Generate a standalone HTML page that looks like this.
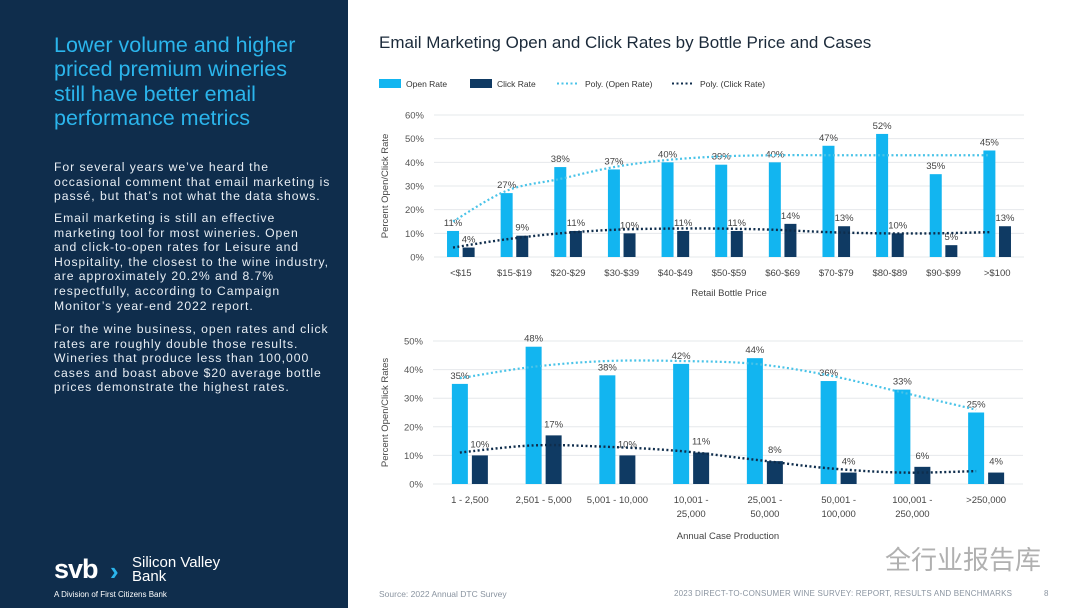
<!DOCTYPE html>
<html><head><meta charset="utf-8">
<style>
body{margin:0;width:1080px;height:608px;position:relative;overflow:hidden;background:#fff;font-family:"Liberation Sans",sans-serif}
#left{position:absolute;left:0;top:0;width:348px;height:608px;background:#0f2d4c}
#title{position:absolute;left:54px;top:33px;color:#2bb5ec;font-size:21.5px;line-height:24.3px;white-space:nowrap}
.p{position:absolute;left:54px;color:#e8eef4;font-size:12.2px;line-height:14.6px;letter-spacing:0.95px;white-space:nowrap}
svg text{font-family:"Liberation Sans",sans-serif}
</style></head><body>
<div id="left">
<div id="title">Lower volume and higher<br>priced premium wineries<br>still have better email<br>performance metrics</div>
<div class="p" style="top:160px">For several years we’ve heard the<br>occasional comment that email marketing is<br>passé, but that’s not what the data shows.</div>
<div class="p" style="top:211px">Email marketing is still an effective<br>marketing tool for most wineries. Open<br>and click-to-open rates for Leisure and<br>Hospitality, the closest to the wine industry,<br>are approximately 20.2% and 8.7%<br>respectfully, according to Campaign<br>Monitor’s year-end 2022 report.</div>
<div class="p" style="top:322px">For the wine business, open rates and click<br>rates are roughly double those results.<br>Wineries that produce less than 100,000<br>cases and boast above $20 average bottle<br>prices demonstrate the highest rates.</div>
<div style="position:absolute;left:54px;top:556px;color:#fff">
<span style="font-size:27px;font-weight:bold;letter-spacing:-1px;position:absolute;top:-2px;left:0">svb</span>
<span style="position:absolute;left:56px;top:0px;color:#2bb5ec;font-size:26px;font-weight:bold">›</span>
<span style="position:absolute;left:78px;top:0px;font-size:15px;line-height:14px;width:120px">Silicon Valley<br>Bank</span>
<span style="position:absolute;left:0;top:34px;font-size:8px;white-space:nowrap">A Division of First Citizens Bank</span>
</div>
</div>
<div style="position:absolute;left:379px;top:33px;font-size:17px;color:#1b2a3a">Email Marketing Open and Click Rates by Bottle Price and Cases</div>
<div style="position:absolute;left:379px;top:589px;font-size:8.5px;color:#8a94a0">Source: 2022 Annual DTC Survey</div>
<div style="position:absolute;left:674px;top:589px;font-size:8px;color:#8a94a0;letter-spacing:0.2px">2023 DIRECT-TO-CONSUMER WINE SURVEY: REPORT, RESULTS AND BENCHMARKS</div>
<div style="position:absolute;left:1044px;top:589px;font-size:8px;color:#8a94a0">8</div>
<div style="position:absolute;left:885px;top:540px;font-size:26px;color:#b0b0b0;font-family:'Liberation Sans','Noto Sans CJK SC',sans-serif">全行业报告库</div>
<svg id="c" width="1080" height="608" style="position:absolute;left:0;top:0"></svg>
<script>
const cats1=["<$15","$15-$19","$20-$29","$30-$39","$40-$49","$50-$59","$60-$69","$70-$79","$80-$89","$90-$99",">$100"];
const open1=[11,27,38,37,40,39,40,47,52,35,45];
const click1=[4,9,11,10,11,11,14,13,10,5,13];
const openTrend1=[15,28,33,38,41,42.5,43,43,43,43,43];
const clickTrend1=[4,7.5,10,11.5,12,12,11.5,10.5,10,10,10.5];
const ticks1=[0,10,20,30,40,50,60];
const cats2=[["1 - 2,500"],["2,501 - 5,000"],["5,001 - 10,000"],["10,001 -","25,000"],["25,001 -","50,000"],["50,001 -","100,000"],["100,001 -","250,000"],[">250,000"]];
const open2=[35,48,38,42,44,36,33,25];
const click2=[10,17,10,11,8,4,6,4];
const openTrend2=[37,41,43,43,42,38,32,26];
const clickTrend2=[11,13.5,13,11.5,8.5,5.5,4,4.5];
const ticks2=[0,10,20,30,40,50];
const svg=document.getElementById('c');const NS='http://www.w3.org/2000/svg';
function mk(t,a,txt){const e=document.createElementNS(NS,t);for(const k in a)e.setAttribute(k,a[k]);if(txt!=null)e.textContent=txt;svg.appendChild(e);return e;}
function path(pts){let d='M'+pts[0][0]+','+pts[0][1];for(let i=0;i<pts.length-1;i++){const p0=pts[i-1]||pts[i],p1=pts[i],p2=pts[i+1],p3=pts[i+2]||p2;d+=' C'+(p1[0]+(p2[0]-p0[0])/6)+','+(p1[1]+(p2[1]-p0[1])/6)+' '+(p2[0]-(p3[0]-p1[0])/6)+','+(p2[1]-(p3[1]-p1[1])/6)+' '+p2[0]+','+p2[1];}return d;}
function chart(o){
 const n=o.cats.length,band=o.w/n;
 const X=i=>o.x0+band*(i+0.5), Y=v=>o.y0-(v/o.max)*o.h;
 o.ticks.forEach(t=>{const g=mk('line',{x1:o.x0,x2:o.x0+o.w,y1:Y(t),y2:Y(t),stroke:'#e6e8eb','stroke-width':1});
  const l=mk('text',{x:o.x0-10,y:Y(t)+3.5,'text-anchor':'end','font-size':9.5,fill:'#555'},t+'%');});
 o.cats.forEach((c,i)=>{
  const b1=mk('rect',{x:X(i)-o.off-o.bw/2,y:Y(o.open[i]),width:o.bw,height:Y(0)-Y(o.open[i]),fill:'#12b5f0'});
  const b2=mk('rect',{x:X(i)+o.off-o.bw/2,y:Y(o.click[i]),width:o.bw,height:Y(0)-Y(o.click[i]),fill:'#0f3a63'});
  const t1=mk('text',{x:X(i)-o.off,y:Y(o.open[i])-5,'text-anchor':'middle','font-size':9.5,fill:'#444'},o.open[i]+'%');
  const t2=mk('text',{x:X(i)+o.off,y:Y(o.click[i])-o.cl,'text-anchor':'middle','font-size':9.5,fill:'#444'},o.click[i]+'%');
  const lines=Array.isArray(c)?c:[c];lines.forEach((s,j)=>{const x=mk('text',{x:X(i),y:o.y0+19+j*14,'text-anchor':'middle','font-size':9.5,fill:'#444'},s);});
 });
 const p1=mk('path',{d:path(o.ot.map((v,i)=>[X(i)-o.off,Y(v)])),fill:'none',stroke:'#49c3e8','stroke-width':2.2,'stroke-dasharray':'2 2.5'});
 const p2=mk('path',{d:path(o.ct.map((v,i)=>[X(i)-o.off,Y(v)])),fill:'none',stroke:'#0f2d4c','stroke-width':2.4,'stroke-dasharray':'2 2.5'});
 const xt=mk('text',{x:o.x0+o.w/2,y:o.xty,'text-anchor':'middle','font-size':9.5,fill:'#444'},o.xt);
 const yt=mk('text',{x:0,y:0,transform:`translate(${o.ytx},${o.y0-o.h/2}) rotate(-90)`,'text-anchor':'middle','font-size':9.5,fill:'#444'},o.yt);
}
chart({cats:cats1,open:open1,click:click1,ot:openTrend1,ct:clickTrend1,ticks:ticks1,max:60,x0:434,w:590,y0:257,h:142,bw:12,off:7.8,cl:5,xt:'Retail Bottle Price',xty:296,yt:'Percent Open/Click Rate',ytx:388});
chart({cats:cats2,open:open2,click:click2,ot:openTrend2,ct:clickTrend2,ticks:ticks2,max:50,x0:433,w:590,y0:484,h:143,bw:16,off:10,cl:8,xt:'Annual Case Production',xty:539,yt:'Percent Open/Click Rates',ytx:388});
const L=[['rect','#12b5f0','Open Rate',379],['rect','#0f3a63','Click Rate',470],['line','#49c3e8','Poly. (Open Rate)',557],['line','#0f2d4c','Poly. (Click Rate)',672]];
L.forEach(l=>{let m;if(l[0]==='rect')m=mk('rect',{x:l[3],y:79,width:22,height:9,fill:l[1]});else m=mk('line',{x1:l[3],x2:l[3]+22,y1:83.5,y2:83.5,stroke:l[1],'stroke-width':2,'stroke-dasharray':'2 2.5'});

const t=mk('text',{x:l[3]+(l[0]==='rect'?27:28),y:87,'font-size':8.5,fill:'#333'},l[2]);});
</script>
</body></html>
